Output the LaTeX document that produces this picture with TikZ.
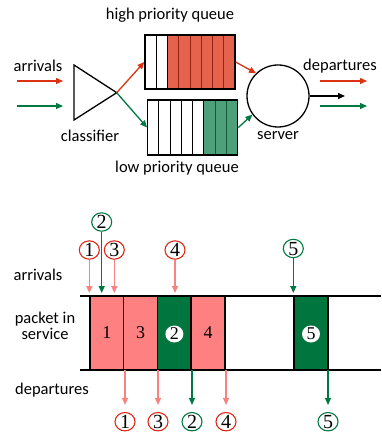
\documentclass[tikz,border=0pt]{standalone}
\usepackage{fontspec}
\setmainfont{Liberation Serif}
\newfontfamily\labfont{Carlito}
\usetikzlibrary{arrows.meta,shapes.geometric}
\definecolor{hqfill}{RGB}{229,98,76}
\definecolor{hqline}{RGB}{150,35,20}
\definecolor{lqfill}{RGB}{78,160,122}
\definecolor{lqline}{RGB}{20,90,55}
\definecolor{ared}{RGB}{220,50,20}
\definecolor{agreen}{RGB}{0,120,65}
\definecolor{pinkc}{RGB}{255,128,128}
\definecolor{pinka}{RGB}{248,130,130}
\definecolor{dgreen}{RGB}{0,118,62}
\definecolor{cred}{RGB}{220,40,20}
\begin{document}
\begin{tikzpicture}[x=1pt,y=-1pt,
  lab/.style={font=\labfont\fontsize{16.5}{16}\selectfont, inner sep=0pt, align=center},
  arr/.style={line width=1.3pt, -{Triangle[length=7pt,width=6pt]}},
  numc/.style={ellipse, draw, line width=1.1pt, inner sep=0pt, minimum width=20pt, minimum height=18pt, text height=13pt, text depth=0pt, font=\fontsize{20}{20}\selectfont},
  redc/.style={numc, draw=cred},
  grnc/.style={numc, draw=agreen},
  cellbox/.style={rectangle, draw=black, line width=1.5pt, minimum width=33.75pt, minimum height=74pt, inner sep=0pt, font=\fontsize{18}{18}\selectfont},
  pinkcell/.style={cellbox, fill=pinkc},
  grncell/.style={cellbox, fill=dgreen},
  wnum/.style={ellipse, fill=white, inner sep=0pt, minimum width=18pt, minimum height=17pt, text height=11pt, text depth=0pt, font=\fontsize{18}{18}\selectfont}
]
\useasboundingbox (0,0) rectangle (381,435);

% ---------- top diagram ----------
\node[lab] (thq) at (170,15) {high priority queue};
\node[lab] (tlq) at (177,168) {low priority queue};
\node[lab] (tarr) at (38,66) {arrivals};
\node[lab] (tdep) at (340,66) {departures};
\node[lab] (tcls) at (90,136) {classifier};
\node[lab] (tsrv) at (278,136) {server};

% high priority queue
\fill[hqfill] (167.5,35) rectangle (235,89);
\foreach \i in {1,2} \draw[line width=1pt] (145+11.25*\i,35) -- (145+11.25*\i,89);
\foreach \i in {3,...,7} \draw[hqline, line width=1pt] (145+11.25*\i,35) -- (145+11.25*\i,89);
\node[draw, line width=1.3pt, minimum width=90pt, minimum height=54pt, inner sep=0pt] (hq) at (190,62) {};
% low priority queue
\fill[lqfill] (203.95,100) rectangle (237.7,155);
\foreach \i in {1,...,5} \draw[line width=1pt] (147.7+11.25*\i,100) -- (147.7+11.25*\i,155);
\foreach \i in {6,7} \draw[lqline, line width=1pt] (147.7+11.25*\i,100) -- (147.7+11.25*\i,155);
\node[draw, line width=1.3pt, minimum width=90pt, minimum height=55pt, inner sep=0pt] (lq) at (192.7,127.5) {};

% classifier
\coordinate (clt) at (74,65);
\coordinate (clb) at (74,120);
\coordinate (cl) at (116.7,92.7);
\draw[line width=1.3pt, line join=miter] (clt) -- (clb) -- (cl) -- cycle;

% server
\node[circle, draw, line width=1.3pt, minimum size=62pt, inner sep=0pt] (srv) at (278,96) {};

% arrows
\coordinate (ar1) at (17,81); \coordinate (ar2) at (63,81);
\coordinate (ag1) at (17,106); \coordinate (ag2) at (63,106);
\draw[arr, ared] (ar1) -- (ar2);
\draw[arr, agreen] (ag1) -- (ag2);
\draw[arr, ared] (cl) -- (hq.west);
\draw[arr, agreen] (cl) -- (lq.west);
\draw[arr, ared] (hq.east) -- (srv.134);
\draw[arr, agreen] (lq.east) -- (srv.216);
\coordinate (bout) at (345,96);
\draw[arr, black] (srv.east) -- (bout);
\coordinate (dr1) at (320,81); \coordinate (dr2) at (367,81);
\coordinate (dg1) at (320,106); \coordinate (dg2) at (367,106);
\draw[arr, ared] (dr1) -- (dr2);
\draw[arr, agreen] (dg1) -- (dg2);

% ---------- bottom diagram ----------
\node[lab] (barr) at (38,275) {arrivals};
\node[lab] (bpkt) at (45,326) {packet in\\service};
\node[lab] (bdep) at (52,390) {departures};

\node[pinkcell] (c1) at (106.9,333) {1};
\node[pinkcell] (c3) at (140.6,333) {3};
\node[grncell] (c2) at (174.4,333) {};
\node[wnum] (n2) at (174.4,334) {2};
\node[pinkcell] (c4) at (208.1,333) {4};
\node[grncell] (c5) at (311,333) {};
\node[wnum] (n5) at (311,334) {5};

\coordinate (tl1) at (80,296); \coordinate (tl2) at (381,296);
\coordinate (bl1) at (80,370); \coordinate (bl2) at (381,370);
\draw[line width=2pt] (tl1) -- (tl2);
\draw[line width=2pt] (bl1) -- (bl2);

% arrival labels
\node[redc] (a1) at (89.3,250) {1};
\node[grnc] (a2) at (101.7,222) {2};
\node[redc] (a3) at (114.3,250) {3};
\node[redc] (a4) at (175,250) {4};
\node[grnc] (a5) at (293.3,248.5) {5};
\coordinate (topy) at (0,293);
\draw[arr, pinka] (a1) -- (a1 |- topy);
\draw[arr, agreen] (a2) -- (a2 |- topy);
\draw[arr, pinka] (a3) -- (a3 |- topy);
\draw[arr, pinka] (a4) -- (a4 |- topy);
\draw[arr, agreen] (a5) -- (a5 |- topy);

% departure labels
\node[redc] (d1) at (125,421.7) {1};
\node[redc] (d3) at (158,421.7) {3};
\node[grnc] (d2) at (192,421.7) {2};
\node[redc] (d4) at (226,421.7) {4};
\node[grnc] (d5) at (328,421.7) {5};
\coordinate (boty) at (0,370);
\draw[arr, pinka, shorten >=7pt] (d1 |- boty) -- (d1);
\draw[arr, pinka, shorten >=7pt] (d3 |- boty) -- (d3);
\draw[arr, agreen, shorten >=7pt] (d2 |- boty) -- (d2);
\draw[arr, pinka, shorten >=7pt] (d4 |- boty) -- (d4);
\draw[arr, agreen, shorten >=7pt] (d5 |- boty) -- (d5);
\end{tikzpicture}
\end{document}
